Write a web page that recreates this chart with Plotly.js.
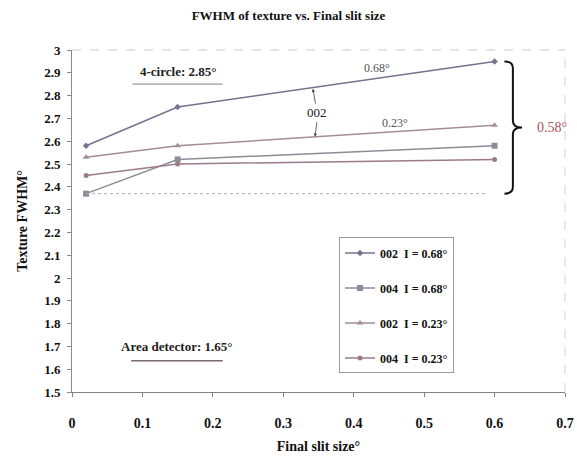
<!DOCTYPE html>
<html>
<head>
<meta charset="utf-8">
<script src="https://cdn.plot.ly/plotly-3.0.1.min.js"></script>
<style>html,body{margin:0;padding:0;background:#fff;}#chart{width:577px;height:458px;}</style>
</head>
<body>
<div id="chart"></div>
<script>
// Final slit size (x) values
var slitSize = [0.02, 0.15, 0.6];
// Texture FWHM series
var s002_068 = [2.58, 2.75, 2.95];
var s004_068 = [2.37, 2.52, 2.58];
var s002_023 = [2.53, 2.58, 2.67];
var s004_023 = [2.45, 2.50, 2.52];
var seriesNames = ["002\u00a0\u00a0I = 0.68°", "004\u00a0\u00a0I = 0.68°", "002\u00a0\u00a0I = 0.23°", "004\u00a0\u00a0I = 0.23°"];
// Reference values
var fourCircle = 2.85;
var areaDetector = 1.65;
var spreadLow = 2.37, spreadHigh = 2.95;

var serif = "Liberation Serif, Times New Roman, serif";
var colors = ["#737390", "#8e8c98", "#a48c98", "#9c7a8a"];
var symbols = ["diamond", "square", "triangle-up", "circle"];
var sizes = [5, 6, 6, 5];
var ys = [s002_068, s004_068, s002_023, s004_023];

var traces = ys.map(function(y, i) {
  return {
    x: slitSize, y: y, type: "scatter", mode: "lines+markers",
    name: seriesNames[i], legendgroup: "g" + i,
    line: {color: colors[i], width: 1.5},
    marker: {color: colors[i], symbol: symbols[i], size: sizes[i]}
  };
});

var midY = (spreadLow + spreadHigh) / 2;
var brace = "M 0.614," + spreadHigh + " Q 0.626," + spreadHigh + " 0.626," + (spreadHigh - 0.03) +
  " L 0.626," + (midY + 0.03) + " Q 0.626," + midY + " 0.639," + midY +
  " Q 0.626," + midY + " 0.626," + (midY - 0.03) +
  " L 0.626," + (spreadLow + 0.03) + " Q 0.626," + spreadLow + " 0.614," + spreadLow;

var layout = {
  width: 577, height: 458,
  margin: {l: 72, r: 12, t: 50, b: 66},
  paper_bgcolor: "#fff", plot_bgcolor: "#fff",
  font: {family: serif, color: "#111"},
  title: {text: "<b>FWHM of texture vs. Final slit size</b>", font: {family: serif, size: 13, color: "#111"}, x: 0.5, xanchor: "center", y: 0.967, yanchor: "middle"},
  xaxis: {
    range: [0, 0.7], dtick: 0.1, tick0: 0, showgrid: false, zeroline: false,
    showline: true, linecolor: "#8a7e86", linewidth: 1,
    ticks: "outside", ticklen: 4, tickcolor: "#8a7e86", ticklabelstandoff: 14,
    tickfont: {family: serif, size: 14, color: "#111", weight: "bold"},
    title: {text: "<b>Final slit size°</b>", font: {family: serif, size: 14, color: "#111"}, standoff: 11}
  },
  yaxis: {
    range: [1.5, 3], dtick: 0.1, tick0: 1.5, showgrid: false, zeroline: false,
    showline: true, linecolor: "#8a8a8a", linewidth: 1,
    ticks: "outside", ticklen: 4, tickcolor: "#8a8a8a", ticklabelstandoff: 4,
    tickfont: {family: serif, size: 13, color: "#111", weight: "bold"},
    title: {text: "<b>Texture FWHM°</b>", font: {family: serif, size: 14, color: "#111"}, standoff: 13}
  },
  showlegend: true,
  legend: {
    x: 0.5416, y: 0.452, xanchor: "left", yanchor: "top",
    bgcolor: "#fff", bordercolor: "#9a9a9a", borderwidth: 1,
    traceorder: "grouped", tracegroupgap: 16,
    entrywidth: 140, entrywidthmode: "pixels",
    font: {family: serif, size: 12, color: "#111", weight: "bold"},
    itemwidth: 30
  },
  shapes: [
    {type: "line", xref: "paper", yref: "paper", x0: 0, x1: 1, y0: 1, y1: 1, line: {color: "#c8c8c8", width: 1, dash: "dash"}},
    {type: "line", xref: "paper", yref: "paper", x0: 1, x1: 1, y0: 0, y1: 1, line: {color: "#d0d0d0", width: 1, dash: "dash"}},
    {type: "line", xref: "x", yref: "y", x0: 0.086, x1: 0.214, y0: fourCircle, y1: fourCircle, line: {color: "#9a9a9a", width: 1.2}},
    {type: "line", xref: "x", yref: "y", x0: 0.084, x1: 0.214, y0: areaDetector - 0.013, y1: areaDetector - 0.013, line: {color: "#7a6a72", width: 1.5}},
    {type: "line", xref: "x", yref: "y", x0: slitSize[0], x1: 0.59, y0: spreadLow, y1: spreadLow, line: {color: "#b0b0b0", width: 1, dash: "dot"}},
    {type: "path", xref: "x", yref: "y", path: brace, line: {color: "#111", width: 2}}
  ],
  annotations: [
    {xref: "x", yref: "y", x: 0.15, y: 2.905, text: "<b>4-circle: 2.85°</b>", showarrow: false, font: {family: serif, size: 13, color: "#222"}},
    {xref: "x", yref: "y", x: 0.149, y: 1.70, text: "<b>Area detector: 1.65°</b>", showarrow: false, font: {family: serif, size: 13, color: "#222"}},
    {xref: "x", yref: "y", x: 0.433, y: 2.923, text: "0.68°", showarrow: false, font: {family: serif, size: 12, color: "#555"}},
    {xref: "x", yref: "y", x: 0.459, y: 2.68, text: "0.23°", showarrow: false, font: {family: serif, size: 12, color: "#555"}},
    {xref: "x", yref: "y", x: 0.342, y: 2.83, axref: "x", ayref: "y", ax: 0.348, ay: 2.725, text: "002", showarrow: true, arrowhead: 2, arrowsize: 0.8, arrowwidth: 0.8, arrowcolor: "#444", font: {family: serif, size: 13, color: "#222"}},
    {xref: "x", yref: "y", x: 0.345, y: 2.62, axref: "x", ayref: "y", ax: 0.348, ay: 2.69, text: "", showarrow: true, arrowhead: 2, arrowsize: 0.8, arrowwidth: 0.8, arrowcolor: "#444"},
    {xref: "x", yref: "y", x: 0.681, y: midY, text: "0.58°", showarrow: false, font: {family: serif, size: 14, color: "#b0505c"}}
  ]
};

Plotly.newPlot("chart", traces, layout, {displayModeBar: false, staticPlot: true});
</script>
</body>
</html>
